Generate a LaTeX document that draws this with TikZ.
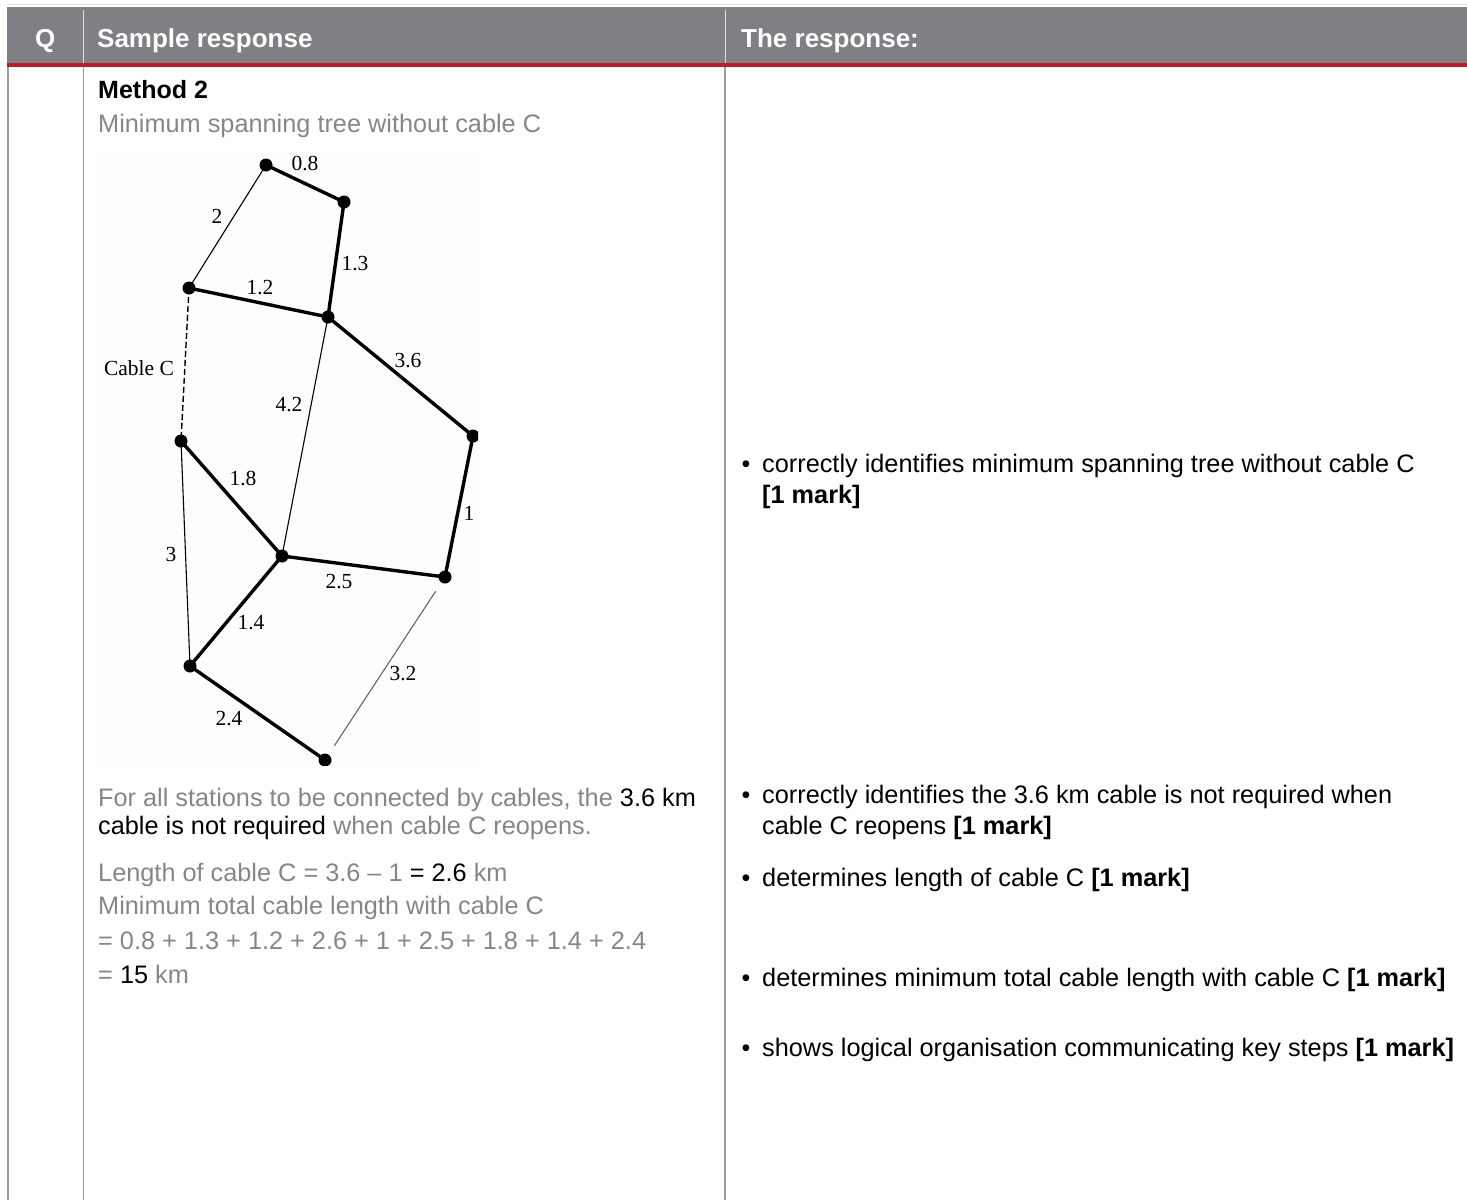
\documentclass[tikz,border=0pt]{standalone}
\usepackage{fontspec}
\setmainfont{Liberation Sans}
\newfontfamily\graphfont{Liberation Serif}
\usetikzlibrary{positioning}

\definecolor{headgray}{HTML}{808084}
\definecolor{textgray}{HTML}{868686}
\definecolor{markred}{HTML}{B51F2A}
\definecolor{rulegray}{HTML}{9C9C9C}
\definecolor{scanbg}{HTML}{FDFDFB}

\tikzset{
  station/.style={circle,fill=black,inner sep=0pt,minimum size=13pt},
  used/.style={line width=3.4pt},
  unused/.style={line width=1.1pt},
  weight/.style={font=\graphfont\fontsize{21.5}{21.5}\selectfont,inner sep=0pt},
  body/.style={anchor=base west,inner sep=0pt,font=\fontsize{25.3}{30}\selectfont},
  head/.style={anchor=base west,inner sep=0pt,text=white,font=\bfseries\fontsize{26}{30}\selectfont},
  bul/.style={anchor=base,inner sep=0pt,font=\fontsize{25}{30}\selectfont},
}

\begin{document}
\begin{tikzpicture}[x=1pt,y=-1pt]
    \useasboundingbox (0,0) rectangle (1467,1200);

    % Kopfzeile
    \draw[gray!25] (7,4) -- (1467,4);
    \fill[headgray] (7,7) rectangle (1467,64);
    \fill[markred] (7,63) rectangle (1467,67);
    \draw[white!75!headgray] (83,10) -- (83,63);
    \draw[white!75!headgray] (725,10) -- (725,63);
    \node[head] (hq) at (35,47) {Q};
    \node[head] (hsample) at (97,47) {Sample response};
    \node[head] (hresp) at (741,47) {The response:};

    % Spaltenlinien
    \draw[rulegray,line width=2pt] (8,67) -- (8,1200);
    \draw[rulegray,line width=1pt] (83,67) -- (83,1200);
    \draw[rulegray,line width=1.5pt] (725,67) -- (725,1200);

    \node[body,font=\bfseries\fontsize{25}{30}\selectfont] (method) at (98,98) {Method 2};
    \node[body,text=textgray] (mst) at (98,132) {Minimum spanning tree without cable C};

    % Netz der Stationen
    \begin{scope}
        \clip (98,150) rectangle (478,765);
        \fill[scanbg] (98,150) rectangle (478,765);

        \coordinate (A) at (266,165);
        \coordinate (B) at (344,202);
        \coordinate (D) at (189,288);
        \coordinate (E) at (328,317);
        \coordinate (F) at (473,436);
        \coordinate (G) at (181,441);
        \coordinate (H) at (282,556);
        \coordinate (I) at (445,577);
        \coordinate (J) at (190,666);
        \coordinate (K) at (325,760);

        \draw[unused] (A) -- (D);
        \draw[unused] (E) -- (H);
        \draw[unused] (G) -- (J);
        \draw[unused,black!60,shorten <=17pt,shorten >=17pt] (I) -- (K);
        \draw[line width=1.4pt,dash pattern=on 6pt off 3pt] (D) -- (G);

        \draw[used] (A) -- (B) -- (E) -- (D);
        \draw[used] (E) -- (F) -- (I) -- (H) -- (G);
        \draw[used] (H) -- (J) -- (K);

        \foreach \s in {A,B,D,E,F,G,H,I,J,K}
            \node[station] (st\s) at (\s) {};
    \end{scope}

    \node[weight] (w08) at (305,163) {0.8};
    \node[weight] (w2) at (217,216) {2};
    \node[weight] (w13) at (355,264) {1.3};
    \node[weight] (w12) at (260,288) {1.2};
    \node[weight] (wc) at (139,368) {Cable C};
    \node[weight] (w36) at (408,361) {3.6};
    \node[weight] (w42) at (289,405) {4.2};
    \node[weight] (w18) at (243,478) {1.8};
    \node[weight] (w1) at (469,513) {1};
    \node[weight] (w3) at (171,554) {3};
    \node[weight] (w25) at (339,582) {2.5};
    \node[weight] (w14) at (251,623) {1.4};
    \node[weight] (w32) at (403,674) {3.2};
    \node[weight] (w24) at (229,719) {2.4};

    % Rechenweg
    \node[body,text=textgray] (l1) at (98,806) {For all stations to be connected by cables, the \textcolor{black}{3.6 km}};
    \node[body,text=textgray] (l2) at (98,834) {\textcolor{black}{cable is not required} when cable C reopens.};
    \node[body,text=textgray] (l3) at (98,881) {Length of cable C = 3.6 -- 1 \textcolor{black}{= 2.6} km};
    \node[body,text=textgray] (l4) at (98,914) {Minimum total cable length with cable C};
    \node[body,text=textgray] (l5) at (98,949) {= 0.8 + 1.3 + 1.2 + 2.6 + 1 + 2.5 + 1.8 + 1.4 + 2.4};
    \node[body,text=textgray] (l6) at (98,983) {= \textcolor{black}{15} km};

    % Bewertung
    \foreach \y in {472,803,886,986,1056}
        \node[bul] at (746,\y) {\textbullet};
    \node[body] (r1) at (762,472) {correctly identifies minimum spanning tree without cable C};
    \node[body] (r1b) at (762,503) {\textbf{[1 mark]}};
    \node[body] (r2) at (762,803) {correctly identifies the 3.6 km cable is not required when};
    \node[body] (r2b) at (762,834) {cable C reopens \textbf{[1 mark]}};
    \node[body] (r3) at (762,886) {determines length of cable C \textbf{[1 mark]}};
    \node[body] (r4) at (762,986) {determines minimum total cable length with cable C \textbf{[1 mark]}};
    \node[body] (r5) at (762,1056) {shows logical organisation communicating key steps \textbf{[1 mark]}};
\end{tikzpicture}
\end{document}
